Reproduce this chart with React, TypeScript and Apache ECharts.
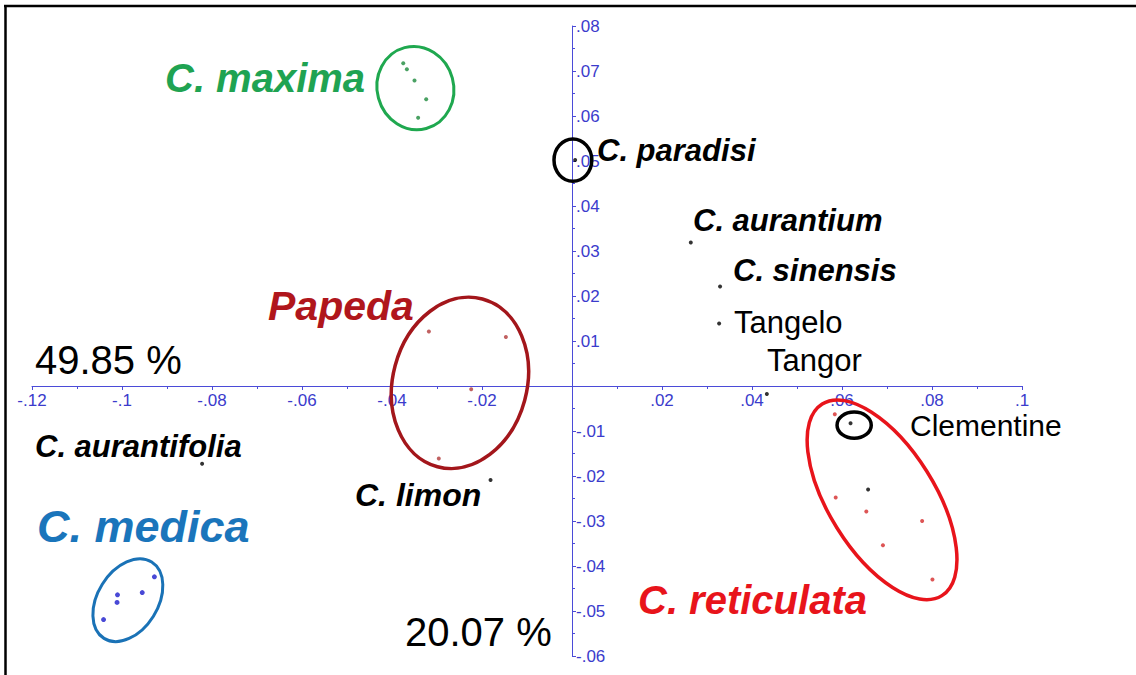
import React, { useEffect, useRef } from "react";
import * as echarts from "echarts";

// ---- data (PC1 / PC2 coordinates) ----
const maximaPoints: number[][] = [
  [-0.0375, 0.0717], [-0.0367, 0.0704], [-0.035, 0.0679], [-0.0324, 0.0637], [-0.0342, 0.0596],
];
const papedaPoints: number[][] = [
  [-0.0318, 0.0121], [-0.0147, 0.0109], [-0.0224, -0.0007], [-0.0296, -0.0161],
];
const medicaPoints: number[][] = [
  [-0.0928, -0.0424], [-0.0955, -0.0459], [-0.101, -0.0464], [-0.1011, -0.0481], [-0.1041, -0.0519],
];
const reticulataPoints: number[][] = [
  [0.0584, -0.0063], [0.0586, -0.0248], [0.0654, -0.0279], [0.0778, -0.03], [0.0691, -0.0354], [0.0801, -0.043],
];
const blackPoints: number[][] = [
  [0.0007, 0.0502], // C. paradisi
  [0.0264, 0.0319], // C. aurantium
  [0.0329, 0.0221], // C. sinensis
  [0.0327, 0.0139], // Tangelo
  [0.0433, -0.0018], // Tangor
  [0.0619, -0.0083], // Clementine
  [0.0658, -0.023],
  [-0.0181, -0.0209], // C. limon
  [-0.0822, -0.0173], // C. aurantifolia
];
// ellipses: [cx, cy, rx, ry, rotationDeg]
const maximaEllipse: number[][] = [[-0.0348, 0.0662, 0.0093, 0.0085, 105]];
const papedaEllipse: number[][] = [[-0.0249, 0.0007, 0.0193, 0.0149, 75]];
const medicaEllipse: number[][] = [[-0.0987, -0.0476, 0.01, 0.0067, 58]];
const reticulataEllipse: number[][] = [[0.0689, -0.0253, 0.0251, 0.0118, -58]];
const highlightCircles: number[][] = [
  [0.0002, 0.0502, 0.0042, 0.0047, 0],
  [0.0627, -0.0087, 0.0038, 0.0029, 0],
];

const xMin = -0.12, xMax = 0.1, xInterval = 0.02;
const yMin = -0.06, yMax = 0.08, yInterval = 0.01;

const pc1Label = "49.85 %";
const pc2Label = "20.07 %";

const AXIS_COLOR = "#4b4bd8";
const LABEL_COLOR = "#3b3bcc";
const FONT = "'Liberation Sans', Arial, sans-serif";

const GRID_LEFT = 32, GRID_RIGHT = 114, GRID_TOP = 26, GRID_BOTTOM = 19;
const W = 1136, H = 675;
const gridW = W - GRID_LEFT - GRID_RIGHT;
const gridH = H - GRID_TOP - GRID_BOTTOM;
// shift axes so that they cross at the origin (labels and ticks included)
const xAxisOffset = -gridH * ((0 - yMin) / (yMax - yMin));
const yAxisOffset = -gridW * ((0 - xMin) / (xMax - xMin));

function fmt(v: number): string {
  const r = Number(v.toFixed(3));
  if (r === 0) return "";
  return String(r).replace("0.", ".");
}

function ellipseSeries(data: number[][], color: string, width: number) {
  return {
    type: "custom",
    data,
    silent: true,
    z: 3,
    renderItem: (_params: any, api: any) => {
      const c = api.coord([api.value(0), api.value(1)]);
      const rx = api.size([api.value(2), 0])[0];
      const ry = api.size([0, api.value(3)])[1];
      return {
        type: "ellipse",
        x: c[0],
        y: c[1],
        rotation: (api.value(4) * Math.PI) / 180,
        shape: { cx: 0, cy: 0, rx, ry },
        style: { fill: "none", stroke: color, lineWidth: width },
      };
    },
  };
}

function scatter(data: number[][], color: string, size: number) {
  return {
    type: "scatter",
    data,
    symbolSize: size,
    z: 4,
    itemStyle: { color },
    silent: true,
  };
}

function txt(text: string, x: number, y: number, size: number, color: string, bold: boolean) {
  return {
    type: "text",
    x,
    y,
    z: 10,
    style: {
      text,
      fill: color,
      font: `${bold ? "italic bold " : ""}${size}px ${FONT}`,
      verticalAlign: "middle",
    },
  };
}

export default function App() {
  const ref = useRef<HTMLDivElement>(null);
  useEffect(() => {
    if (!ref.current) return;
    const chart = echarts.init(ref.current, null, { renderer: "svg" });
    chart.setOption({
      animation: false,
      backgroundColor: "#ffffff",
      grid: { left: GRID_LEFT, right: GRID_RIGHT, top: GRID_TOP, bottom: GRID_BOTTOM, containLabel: false },
      xAxis: {
        type: "value",
        min: xMin,
        max: xMax,
        interval: xInterval,
        offset: xAxisOffset,
        axisLine: { onZero: false, lineStyle: { color: AXIS_COLOR, width: 1 } },
        axisTick: { show: true, length: 4, lineStyle: { color: AXIS_COLOR } },
        minorTick: { show: true, splitNumber: 2, length: 3, lineStyle: { color: AXIS_COLOR } },
        splitLine: { show: false },
        axisLabel: { formatter: fmt, color: LABEL_COLOR, fontSize: 17, fontFamily: FONT, margin: 6 },
      },
      yAxis: {
        type: "value",
        min: yMin,
        max: yMax,
        interval: yInterval,
        offset: yAxisOffset,
        axisLine: { onZero: false, lineStyle: { color: AXIS_COLOR, width: 1 } },
        axisTick: { show: true, length: 4, inside: true, lineStyle: { color: AXIS_COLOR } },
        minorTick: { show: true, splitNumber: 2, length: 3, lineStyle: { color: AXIS_COLOR } },
        splitLine: { show: false },
        axisLabel: { inside: true, formatter: fmt, color: LABEL_COLOR, fontSize: 17, fontFamily: FONT, margin: 4 },
      },
      series: [
        ellipseSeries(maximaEllipse, "#1fa84f", 3),
        ellipseSeries(papedaEllipse, "#a3161b", 3.5),
        ellipseSeries(medicaEllipse, "#1a72b6", 3),
        ellipseSeries(reticulataEllipse, "#e8141b", 3.5),
        ellipseSeries(highlightCircles, "#000000", 3.5),
        scatter(maximaPoints, "#1d8a3c", 4),
        scatter(papedaPoints, "#b23a3a", 4),
        scatter(medicaPoints, "#1c1ccc", 5),
        scatter(reticulataPoints, "#d42a2a", 4),
        scatter(blackPoints, "#000000", 4),
      ],
      graphic: [
        { type: "line", shape: { x1: 4, y1: 6, x2: 1136, y2: 6 }, style: { stroke: "#000", lineWidth: 2.5 } },
        { type: "line", shape: { x1: 5.5, y1: 5, x2: 5.5, y2: 675 }, style: { stroke: "#000", lineWidth: 2.5 } },
        txt("C. maxima", 165, 78, 40, "#1fa352", true),
        txt("C. paradisi", 597, 150, 31, "#000", true),
        txt("C. aurantium", 693, 220, 31, "#000", true),
        txt("C. sinensis", 733, 270, 31, "#000", true),
        txt("Tangelo", 734, 322, 31, "#000", false),
        txt("Tangor", 767, 360, 31, "#000", false),
        txt("Clementine", 910, 425, 30, "#000", false),
        txt("Papeda", 268, 306, 41, "#b0161c", true),
        txt(pc1Label, 35, 360, 40, "#000", false),
        txt("C. aurantifolia", 35, 446, 31, "#000", true),
        txt("C. limon", 355, 495, 32, "#000", true),
        txt("C. medica", 37, 526, 45, "#1a75bb", true),
        txt(pc2Label, 405, 632, 40, "#000", false),
        txt("C. reticulata", 638, 600, 40, "#e8141b", true),
      ],
    });
    return () => chart.dispose();
  }, []);
  return (
    <div
      ref={ref}
      style={{ position: "fixed", left: 0, top: 0, width: 1136, height: 675, background: "#fff" }}
    />
  );
}
